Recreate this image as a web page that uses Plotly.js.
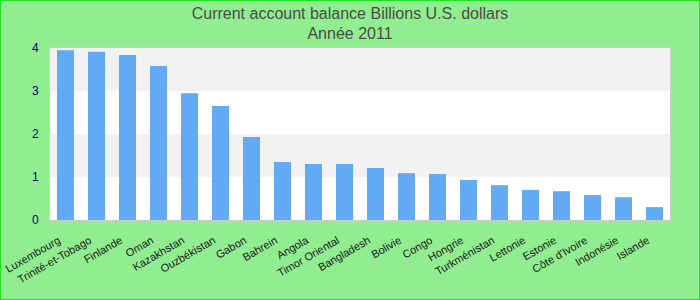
<!DOCTYPE html>
<html>
<head>
<meta charset="utf-8">
<script src="https://cdn.plot.ly/plotly-3.0.1.min.js"></script>
<style>
html,body{margin:0;padding:0;background:#90ee90;}
#wrap{position:relative;width:700px;height:300px;}
#chart{width:700px;height:300px;}
#frame{position:absolute;left:0;top:0;width:700px;height:300px;box-sizing:border-box;border:1px solid #22e022;pointer-events:none;}
</style>
</head>
<body>
<div id="wrap"><div id="chart"></div><div id="frame"></div></div>
<script>
const countries = ["Luxembourg","Trinité-et-Tobago","Finlande","Oman","Kazakhstan","Ouzbékistan","Gabon","Bahrein","Angola","Timor Oriental","Bangladesh","Bolivie","Congo","Hongrie","Turkménistan","Lettonie","Estonie","Côte d'Ivoire","Indonésie","Islande"];
const balance = [3.95,3.91,3.84,3.58,2.95,2.65,1.93,1.35,1.30,1.30,1.21,1.09,1.07,0.93,0.81,0.70,0.67,0.58,0.53,0.30];
const yTicks = [0,1,2,3,4];
const bands = [[1,2],[3,4]];
const titleText = "Current account balance Billions U.S. dollars<br>Année 2011";

const shapes = bands.map(b => ({
  type:'rect', xref:'paper', yref:'y', x0:0, x1:1, y0:b[0], y1:b[1],
  fillcolor:'#f2f2f2', line:{width:0}, layer:'below'
}));

const trace = {
  type:'bar', x:countries, y:balance,
  marker:{color:'#62aaf4', line:{width:0}},
  hoverinfo:'x+y'
};

const layout = {
  width:700, height:300,
  paper_bgcolor:'#90ee90', plot_bgcolor:'#ffffff',
  margin:{l:50, r:30, t:48, b:80},
  font:{family:'"Liberation Sans", Arial, sans-serif'},
  title:{text:titleText, x:0.5, xanchor:'center', yref:'container', y:0.938, yanchor:'top',
         font:{size:16, color:'#4a4a4a'}},
  bargap:0.45,
  showlegend:false,
  xaxis:{type:'category', tickangle:-30, tickfont:{size:11, color:'#1a1a1a'},
         showline:true, mirror:true, linecolor:'#cccccc', linewidth:1,
         showgrid:false, ticks:'', ticklabelstandoff:9, ticklabelshift:-7, automargin:false},
  yaxis:{range:[0,4], tickvals:yTicks, ticktext:yTicks.map(String),
         tickfont:{size:12, color:'#00008b'}, showgrid:false, zeroline:false,
         showline:true, mirror:true, linecolor:'#cccccc', linewidth:1,
         ticks:'', ticklabelstandoff:8, automargin:false},
  shapes:shapes
};

Plotly.newPlot('chart',[trace],layout,{displayModeBar:false, staticPlot:true});
</script>
</body>
</html>
